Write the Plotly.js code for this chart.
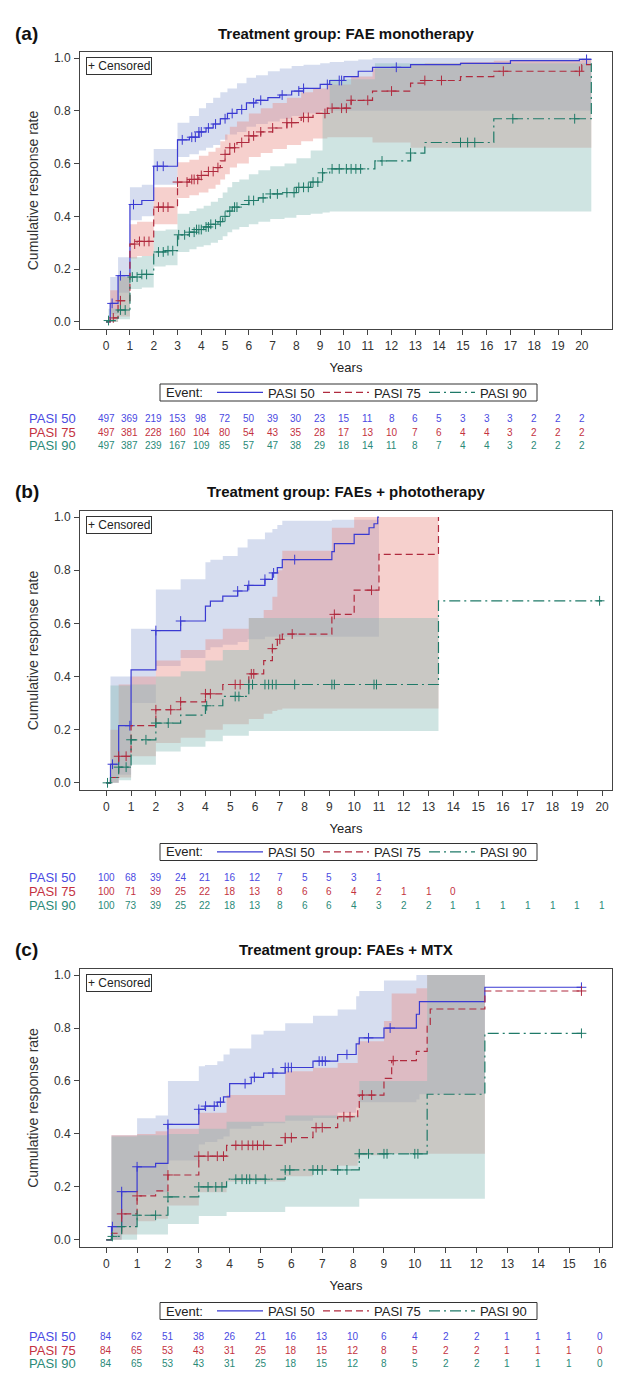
<!DOCTYPE html>
<html>
<head>
<meta charset="utf-8">
<script src="https://cdn.plot.ly/plotly-3.0.1.min.js"></script>
<style>
  html, body { margin: 0; padding: 0; background: #fff; }
  #chart { width: 630px; height: 1386px; }
</style>
</head>
<body>
<div id="chart"></div>
<script>
// ---------- (a) FAE monotherapy ----------
const tA50 = [0, 0.17, 0.5, 1.0, 1.5, 2.0, 3.0, 3.5, 3.9, 4.2, 4.5, 4.8, 5.1, 5.5, 5.9, 6.3, 6.8, 7.3, 7.8, 8.3, 9.0, 9.4, 10.0, 10.6, 11.2, 12.8, 14.9, 17.0, 19.9];
const sA50 = [0, 0.07, 0.175, 0.445, 0.46, 0.59, 0.69, 0.70, 0.72, 0.735, 0.75, 0.77, 0.79, 0.805, 0.83, 0.84, 0.85, 0.86, 0.875, 0.885, 0.90, 0.915, 0.93, 0.95, 0.965, 0.975, 0.98, 0.99, 0.995];
const loA50 = [0, 0.03, 0.11, 0.385, 0.40, 0.52, 0.625, 0.635, 0.65, 0.66, 0.67, 0.69, 0.71, 0.72, 0.74, 0.75, 0.76, 0.77, 0.78, 0.79, 0.80, 0.80, 0.80, 0.80, 0.80, 0.80, 0.80, 0.80, 0.80];
const hiA50 = [0, 0.17, 0.245, 0.51, 0.52, 0.655, 0.755, 0.78, 0.81, 0.83, 0.85, 0.87, 0.885, 0.905, 0.925, 0.935, 0.95, 0.96, 0.97, 0.975, 0.98, 0.985, 0.99, 0.995, 1.0, 1.0, 1.0, 1.0, 1.0];
const cA50 = [0.25, 0.6, 1.15, 2.15, 2.4, 3.2, 3.6, 3.75, 3.9, 4.0, 4.3, 4.6, 5.0, 5.3, 5.7, 6.2, 6.5, 7.4, 8.1, 8.3, 9.3, 9.8, 9.9, 12.2, 20.2];

const tA75 = [0, 0.17, 0.5, 1.0, 1.3, 2.0, 3.0, 3.5, 3.9, 4.3, 4.6, 4.8, 5.0, 5.2, 5.5, 6.0, 6.5, 7.0, 7.6, 8.2, 8.7, 9.3, 10.3, 11.2, 12.8, 13.4, 14.9, 16.3, 20.0];
const sA75 = [0, 0.015, 0.08, 0.295, 0.305, 0.435, 0.53, 0.54, 0.555, 0.57, 0.585, 0.61, 0.635, 0.66, 0.68, 0.705, 0.72, 0.735, 0.755, 0.775, 0.79, 0.81, 0.84, 0.875, 0.905, 0.915, 0.93, 0.95, 0.975];
const loA75 = [0, 0, 0.02, 0.24, 0.25, 0.37, 0.47, 0.48, 0.49, 0.505, 0.52, 0.54, 0.56, 0.585, 0.60, 0.625, 0.64, 0.655, 0.67, 0.685, 0.695, 0.70, 0.70, 0.68, 0.66, 0.66, 0.66, 0.66, 0.66];
const hiA75 = [0, 0.12, 0.17, 0.37, 0.38, 0.51, 0.605, 0.615, 0.63, 0.645, 0.66, 0.685, 0.71, 0.74, 0.76, 0.79, 0.81, 0.83, 0.85, 0.87, 0.885, 0.90, 0.93, 0.96, 0.975, 0.98, 0.985, 0.99, 0.995];
const cA75 = [0.3, 0.6, 1.2, 1.4, 1.6, 1.8, 2.2, 2.4, 2.6, 3.0, 3.4, 3.6, 3.7, 3.85, 4.0, 4.3, 4.5, 4.7, 5.0, 5.2, 5.4, 5.7, 6.0, 6.2, 6.5, 7.0, 7.6, 7.8, 8.3, 8.5, 9.2, 9.5, 9.9, 10.1, 10.3, 11.0, 12.0, 13.4, 14.1, 16.7, 19.9];

const tA90 = [0, 0.1, 0.5, 1.0, 1.5, 2.0, 2.5, 3.0, 3.5, 3.8, 4.1, 4.4, 4.7, 4.9, 5.1, 5.3, 5.6, 6.0, 6.4, 6.9, 7.5, 8.0, 8.6, 9.1, 9.4, 11.3, 12.8, 13.4, 16.3, 20.4];
const sA90 = [0, 0.005, 0.045, 0.17, 0.18, 0.265, 0.27, 0.33, 0.34, 0.35, 0.36, 0.37, 0.38, 0.40, 0.42, 0.435, 0.445, 0.46, 0.47, 0.485, 0.49, 0.51, 0.53, 0.565, 0.58, 0.61, 0.64, 0.68, 0.77, 0.98];
const loA90 = [0, 0, 0.01, 0.125, 0.13, 0.21, 0.215, 0.265, 0.275, 0.285, 0.29, 0.30, 0.31, 0.325, 0.34, 0.35, 0.36, 0.37, 0.38, 0.39, 0.395, 0.405, 0.41, 0.415, 0.418, 0.418, 0.418, 0.418, 0.418, 0.418];
const hiA90 = [0, 0.05, 0.17, 0.245, 0.25, 0.345, 0.35, 0.41, 0.42, 0.43, 0.44, 0.455, 0.47, 0.49, 0.51, 0.53, 0.54, 0.56, 0.575, 0.59, 0.60, 0.62, 0.65, 0.80, 0.92, 0.98, 0.98, 0.98, 0.98, 0.98];
const cA90 = [0.1, 0.6, 0.8, 1.1, 1.3, 1.5, 1.7, 2.2, 2.4, 2.6, 2.8, 3.05, 3.3, 3.5, 3.7, 3.8, 3.9, 4.0, 4.2, 4.3, 4.4, 4.6, 4.8, 5.0, 5.2, 5.4, 5.5, 6.0, 6.2, 6.6, 6.9, 7.2, 7.6, 7.9, 8.1, 8.3, 8.5, 8.7, 8.9, 9.1, 9.5, 9.8, 10.1, 10.3, 10.5, 10.7, 11.6, 12.8, 14.9, 15.2, 15.5, 17.1, 19.7];

const rA50 = [497, 369, 219, 153, 98, 72, 50, 39, 30, 23, 15, 11, 8, 6, 5, 3, 3, 3, 2, 2, 2];
const rA75 = [497, 381, 228, 160, 104, 80, 54, 43, 35, 28, 17, 13, 10, 7, 6, 4, 4, 3, 2, 2, 2];
const rA90 = [497, 387, 239, 167, 109, 85, 57, 47, 38, 29, 18, 14, 11, 8, 7, 4, 4, 3, 2, 2, 2];

// ---------- (b) FAEs + phototherapy ----------
const tB50 = [0, 0.17, 0.5, 1.0, 2.0, 3.0, 4.0, 4.2, 4.7, 5.3, 5.7, 6.4, 6.7, 6.9, 7.1, 9.1, 9.2, 10.0, 10.6, 10.8, 10.95];
const sB50 = [0, 0.07, 0.215, 0.425, 0.573, 0.609, 0.665, 0.684, 0.703, 0.722, 0.743, 0.766, 0.79, 0.81, 0.84, 0.87, 0.90, 0.935, 0.96, 0.975, 1.0];
const loB50 = [0, 0, 0.03, 0.30, 0.44, 0.47, 0.50, 0.51, 0.52, 0.53, 0.54, 0.55, 0.55, 0.55, 0.55, 0.55, 0.55, 0.55, 0.55, 0.55, 0.55];
const hiB50 = [0, 0.40, 0.40, 0.58, 0.728, 0.766, 0.83, 0.84, 0.854, 0.886, 0.917, 0.942, 0.955, 0.97, 0.986, 0.99, 0.99, 0.99, 0.99, 0.99, 0.99];
const cB50 = [0.25, 0.95, 2.0, 3.0, 5.3, 5.75, 6.4, 6.75, 7.6];

const tB75 = [0, 0.17, 0.5, 1.0, 2.0, 3.0, 4.0, 4.7, 5.75, 6.35, 6.7, 6.9, 7.1, 9.1, 10.0, 11.0, 13.4];
const sB75 = [0, 0.02, 0.10, 0.215, 0.275, 0.305, 0.335, 0.37, 0.41, 0.46, 0.505, 0.54, 0.56, 0.634, 0.725, 0.86, 1.0];
const loB75 = [0, 0, 0.02, 0.10, 0.15, 0.17, 0.20, 0.22, 0.24, 0.26, 0.27, 0.275, 0.28, 0.28, 0.28, 0.28, 0.28];
const hiB75 = [0, 0.20, 0.37, 0.40, 0.46, 0.50, 0.54, 0.58, 0.62, 0.65, 0.70, 0.80, 0.873, 0.96, 1.0, 1.0, 1.0];
const cB75 = [0.5, 0.8, 2.0, 2.6, 3.0, 4.0, 4.2, 5.2, 5.4, 5.85, 5.95, 6.7, 7.0, 7.5, 9.2, 10.7];

const tB90 = [0, 0.17, 0.5, 1.0, 2.0, 3.0, 4.0, 4.7, 5.75, 13.4];
const sB90 = [0, 0.02, 0.059, 0.162, 0.225, 0.255, 0.29, 0.325, 0.37, 0.685];
const loB90 = [0, 0, 0.01, 0.068, 0.118, 0.136, 0.156, 0.177, 0.195, 0.195];
const hiB90 = [0, 0.366, 0.366, 0.37, 0.40, 0.42, 0.46, 0.50, 0.62, 0.62];
const cB90 = [0.05, 0.5, 0.8, 1.0, 1.6, 2.0, 2.5, 4.05, 5.2, 5.35, 5.75, 5.9, 6.4, 6.55, 6.7, 6.85, 7.6, 9.1, 9.2, 10.8, 10.9, 19.9];

const rB50 = [100, 68, 39, 24, 21, 16, 12, 7, 5, 5, 3, 1];
const rB75 = [100, 71, 39, 25, 22, 18, 13, 8, 6, 6, 4, 2, 1, 1, 0];
const rB90 = [100, 73, 39, 25, 22, 18, 13, 8, 6, 6, 4, 3, 2, 2, 1, 1, 1, 1, 1, 1, 1];

// ---------- (c) FAEs + MTX ----------
const tC50 = [0, 0.17, 0.5, 1.0, 1.6, 2.0, 3.0, 3.2, 3.6, 3.8, 4.0, 4.7, 5.1, 5.8, 6.7, 7.5, 8.1, 8.2, 9.0, 10.05, 10.15, 12.27];
const sC50 = [0, 0.05, 0.182, 0.276, 0.289, 0.436, 0.493, 0.505, 0.52, 0.54, 0.59, 0.614, 0.63, 0.651, 0.675, 0.70, 0.74, 0.763, 0.80, 0.852, 0.90, 0.954];
const loC50 = [0, 0, 0.05, 0.17, 0.18, 0.30, 0.36, 0.37, 0.38, 0.39, 0.42, 0.43, 0.44, 0.45, 0.46, 0.48, 0.50, 0.52, 0.52, 0.53, 0.55, 0.55];
const hiC50 = [0, 0.395, 0.395, 0.459, 0.47, 0.60, 0.656, 0.66, 0.675, 0.70, 0.723, 0.776, 0.79, 0.818, 0.846, 0.87, 0.92, 0.94, 0.98, 1.0, 1.0, 1.0];
const cC50 = [0.2, 0.5, 1.0, 2.0, 3.0, 3.22, 3.5, 3.7, 4.5, 4.8, 5.4, 5.8, 5.9, 6.0, 6.9, 7.0, 7.1, 7.8, 8.5, 9.2, 15.4];

const tC75 = [0, 0.17, 0.5, 1.0, 1.6, 2.0, 3.0, 3.9, 5.8, 6.7, 7.5, 8.15, 8.2, 9.0, 9.25, 10.05, 10.4, 10.5, 12.27];
const sC75 = [0, 0.025, 0.098, 0.166, 0.185, 0.245, 0.316, 0.357, 0.386, 0.424, 0.465, 0.50, 0.547, 0.61, 0.677, 0.712, 0.814, 0.872, 0.94];
const loC75 = [0, 0, 0.02, 0.07, 0.08, 0.13, 0.18, 0.22, 0.24, 0.26, 0.28, 0.30, 0.32, 0.325, 0.325, 0.325, 0.325, 0.325, 0.325];
const hiC75 = [0, 0.395, 0.395, 0.40, 0.41, 0.42, 0.48, 0.547, 0.637, 0.65, 0.668, 0.75, 0.75, 0.827, 0.93, 0.95, 1.0, 1.0, 1.0];
const cC75 = [0.5, 1.0, 2.0, 3.0, 3.3, 3.6, 3.8, 4.2, 4.4, 4.6, 4.75, 4.9, 5.1, 5.8, 6.0, 6.8, 7.0, 7.7, 7.9, 8.3, 8.6, 9.3, 15.4];

const tC90 = [0, 0.17, 0.5, 1.0, 2.0, 3.0, 3.9, 5.8, 8.2, 10.4, 12.27];
const sC90 = [0, 0.013, 0.05, 0.093, 0.162, 0.20, 0.229, 0.264, 0.325, 0.55, 0.78];
const loC90 = [0, 0, 0.0, 0.02, 0.06, 0.09, 0.105, 0.125, 0.155, 0.155, 0.155];
const hiC90 = [0, 0.39, 0.39, 0.395, 0.40, 0.42, 0.446, 0.47, 0.60, 1.0, 1.0];
const cC90 = [0.2, 0.5, 1.0, 1.6, 2.0, 3.0, 3.3, 3.55, 3.75, 4.2, 4.4, 4.55, 4.65, 4.85, 5.15, 5.8, 5.95, 6.7, 6.85, 7.0, 7.5, 7.8, 8.2, 8.5, 9.0, 9.1, 10.0, 10.1, 15.4];

const rC50 = [84, 62, 51, 38, 26, 21, 16, 13, 10, 6, 4, 2, 2, 1, 1, 1, 0];
const rC75 = [84, 65, 53, 43, 31, 25, 18, 15, 12, 8, 5, 2, 2, 1, 1, 1, 0];
const rC90 = [84, 65, 53, 43, 31, 25, 18, 15, 12, 8, 5, 2, 2, 1, 1, 1, 0];

const seriesNames = ['PASI 50', 'PASI 75', 'PASI 90'];

// ---------- styles / geometry ----------
const W = 630, H = 1386;
const FONT = 'Liberation Sans, Arial, sans-serif';
const lineColors = ['#3a3ad2', '#b02a3e', '#1f7a68'];
const textColors = ['#4a4ae2', '#c4323f', '#2a8a78'];
const bandColors = ['rgba(153,170,215,0.4)', 'rgba(232,137,130,0.4)', 'rgba(135,187,182,0.4)'];
const dashes = ['solid', '7px,4px', '11px,4px,2px,4px'];

const panels = [
  { label: '(a)', title: 'Treatment group: FAE monotherapy', top: 52, bottom: 329, titleY: 33,
    xr: [-1.1, 21.27], xmax: 20, legendY: 392.5, rowsY: [418, 432, 446],
    series: [
      { t: tA50, s: sA50, lo: loA50, hi: hiA50, cens: cA50, lineEnd: 20.4, bandEnd: 20.4, risk: rA50 },
      { t: tA75, s: sA75, lo: loA75, hi: hiA75, cens: cA75, lineEnd: 20.4, bandEnd: 20.4, risk: rA75 },
      { t: tA90, s: sA90, lo: loA90, hi: hiA90, cens: cA90, lineEnd: 20.4, bandEnd: 20.4, risk: rA90 }] },
  { label: '(b)', title: 'Treatment group: FAEs + phototherapy', top: 511, bottom: 790, titleY: 492,
    xr: [-1.06, 20.4], xmax: 20, legendY: 852, rowsY: [877, 891, 905],
    series: [
      { t: tB50, s: sB50, lo: loB50, hi: hiB50, cens: cB50, lineEnd: 11.0, bandEnd: 11.0, risk: rB50 },
      { t: tB75, s: sB75, lo: loB75, hi: hiB75, cens: cB75, lineEnd: 13.4, bandEnd: 13.4, risk: rB75 },
      { t: tB90, s: sB90, lo: loB90, hi: hiB90, cens: cB90, lineEnd: 20.0, bandEnd: 13.4, risk: rB90 }] },
  { label: '(c)', title: 'Treatment group: FAEs + MTX', top: 969, bottom: 1247, titleY: 950,
    xr: [-0.85, 16.39], xmax: 16, legendY: 1311, rowsY: [1336, 1350, 1363],
    series: [
      { t: tC50, s: sC50, lo: loC50, hi: hiC50, cens: cC50, lineEnd: 15.4, bandEnd: 12.27, risk: rC50 },
      { t: tC75, s: sC75, lo: loC75, hi: hiC75, cens: cC75, lineEnd: 15.4, bandEnd: 12.27, risk: rC75 },
      { t: tC90, s: sC90, lo: loC90, hi: hiC90, cens: cC90, lineEnd: 15.4, bandEnd: 12.27, risk: rC90 }] }
];

function py(px) { return 1 - px / H; }

// value of the step curve at time x
function stepAt(ts, vs, x) {
  let v = vs[0];
  for (let i = 0; i < ts.length; i++) {
    if (ts[i] <= x) v = vs[i];
  }
  return v;
}

const traces = [];
const annotations = [];
const shapes = [];
const layout = {
  width: W, height: H,
  margin: { l: 0, r: 0, t: 0, b: 0 },
  paper_bgcolor: '#fff', plot_bgcolor: '#fff',
  font: { family: FONT, color: '#222' },
  showlegend: true,
  hovermode: false
};

panels.forEach(function(p, i) {
  const n = i === 0 ? '' : String(i + 1);
  const xa = 'x' + n, ya = 'y' + n;
  const legendId = 'legend' + n;

  // confidence bands (drawn first)
  p.series.forEach(function(sr, k) {
    const bx = sr.t.slice(0, sr.lo.length).concat([sr.bandEnd]);
    traces.push({
      x: bx, y: sr.lo.concat([sr.lo[sr.lo.length - 1]]), xaxis: xa, yaxis: ya,
      type: 'scatter', mode: 'lines', line: { shape: 'hv', width: 0 },
      showlegend: false, hoverinfo: 'skip'
    });
    traces.push({
      x: bx, y: sr.hi.concat([sr.hi[sr.hi.length - 1]]), xaxis: xa, yaxis: ya,
      type: 'scatter', mode: 'lines', line: { shape: 'hv', width: 0 },
      fill: 'tonexty', fillcolor: bandColors[k],
      showlegend: false, hoverinfo: 'skip'
    });
  });

  // step lines + censor marks
  p.series.forEach(function(sr, k) {
    traces.push({
      x: sr.t.concat([sr.lineEnd]), y: sr.s.concat([sr.s[sr.s.length - 1]]),
      xaxis: xa, yaxis: ya, type: 'scatter', mode: 'lines',
      name: seriesNames[k], legend: legendId,
      line: { shape: 'hv', color: lineColors[k], width: 1.2, dash: dashes[k] },
      hoverinfo: 'skip'
    });
    traces.push({
      x: sr.cens, y: sr.cens.map(function(c) { return stepAt(sr.t, sr.s, c); }),
      xaxis: xa, yaxis: ya, type: 'scatter', mode: 'markers', showlegend: false,
      marker: { symbol: 'cross-thin', size: 7, line: { width: 1, color: lineColors[k] } },
      hoverinfo: 'skip'
    });
  });

  // axes
  const ticks = [];
  for (let v = 0; v <= p.xmax; v++) ticks.push(v);
  layout['xaxis' + n] = {
    domain: [80 / W, 612 / W], anchor: ya, range: p.xr,
    tickvals: ticks, ticks: 'outside', ticklen: 5, tickcolor: '#444',
    showline: true, mirror: true, linecolor: '#444', linewidth: 1,
    showgrid: false, zeroline: false, ticklabelstandoff: 1,
    tickfont: { size: 12, color: '#333' },
    title: { text: 'Years', font: { size: 13, color: '#222' }, standoff: 10 }
  };
  layout['yaxis' + n] = {
    domain: [py(p.bottom), py(p.top)], anchor: xa, range: [-0.027, 1.023],
    tickvals: [0, 0.2, 0.4, 0.6, 0.8, 1.0], tickformat: '.1f',
    ticks: 'outside', ticklen: 5, tickcolor: '#444',
    showline: true, mirror: true, linecolor: '#444', linewidth: 1,
    showgrid: false, zeroline: false, ticklabelstandoff: 1,
    tickfont: { size: 12, color: '#333' },
    title: { text: 'Cumulative response rate', font: { size: 14, color: '#333' }, standoff: 12 }
  };

  // legend: box + "Event:" label drawn around the library legend
  shapes.push({ type: 'rect', xref: 'paper', yref: 'paper',
    x0: 160 / W, x1: 537 / W, y0: py(p.legendY + 8.5), y1: py(p.legendY - 8.5),
    line: { color: '#333', width: 1 }, fillcolor: 'rgba(0,0,0,0)' });
  annotations.push({ xref: 'paper', yref: 'paper', x: 164 / W, y: py(p.legendY), xanchor: 'left', yanchor: 'middle',
    text: 'Event:', showarrow: false, font: { size: 13, color: '#222' } });
  layout[legendId] = {
    orientation: 'h', x: 212 / W, xanchor: 'left', y: py(p.legendY), yanchor: 'middle',
    borderwidth: 0, bgcolor: 'rgba(0,0,0,0)', traceorder: 'normal',
    itemwidth: 46, entrywidth: 45, entrywidthmode: 'pixels',
    font: { size: 13, color: '#222' },
    itemclick: false, itemdoubleclick: false
  };

  // panel letter + title
  annotations.push({ xref: 'paper', yref: 'paper', x: 13 / W, y: py(p.titleY), xanchor: 'left', yanchor: 'middle',
    text: '<b>' + p.label + '</b>', showarrow: false, font: { size: 19, color: '#111' } });
  annotations.push({ xref: 'paper', yref: 'paper', x: 346 / W, y: py(p.titleY), xanchor: 'center', yanchor: 'middle',
    text: '<b>' + p.title + '</b>', showarrow: false, font: { size: 15, color: '#111' } });

  // "+ Censored" inset
  annotations.push({ xref: xa + ' domain', yref: ya + ' domain', x: 0.011, y: 0.982, xanchor: 'left', yanchor: 'top',
    text: '+ Censored', showarrow: false, bordercolor: '#333', borderwidth: 1, borderpad: 1,
    bgcolor: '#fff', font: { size: 12, color: '#222' } });

  // number-at-risk table
  p.series.forEach(function(sr, k) {
    const yy = py(p.rowsY[k]);
    annotations.push({ xref: 'paper', yref: 'paper', x: 27 / W, y: yy, xanchor: 'left', yanchor: 'middle',
      text: seriesNames[k], showarrow: false, font: { size: 13, color: textColors[k] } });
    sr.risk.forEach(function(v, j) {
      annotations.push({ xref: xa, yref: 'paper', x: j, y: yy, xanchor: 'center', yanchor: 'middle',
        text: String(v), showarrow: false, font: { size: 10, color: textColors[k] } });
    });
  });
});

layout.annotations = annotations;
layout.shapes = shapes;

Plotly.newPlot('chart', traces, layout, { displayModeBar: false, staticPlot: true });
</script>
</body>
</html>
